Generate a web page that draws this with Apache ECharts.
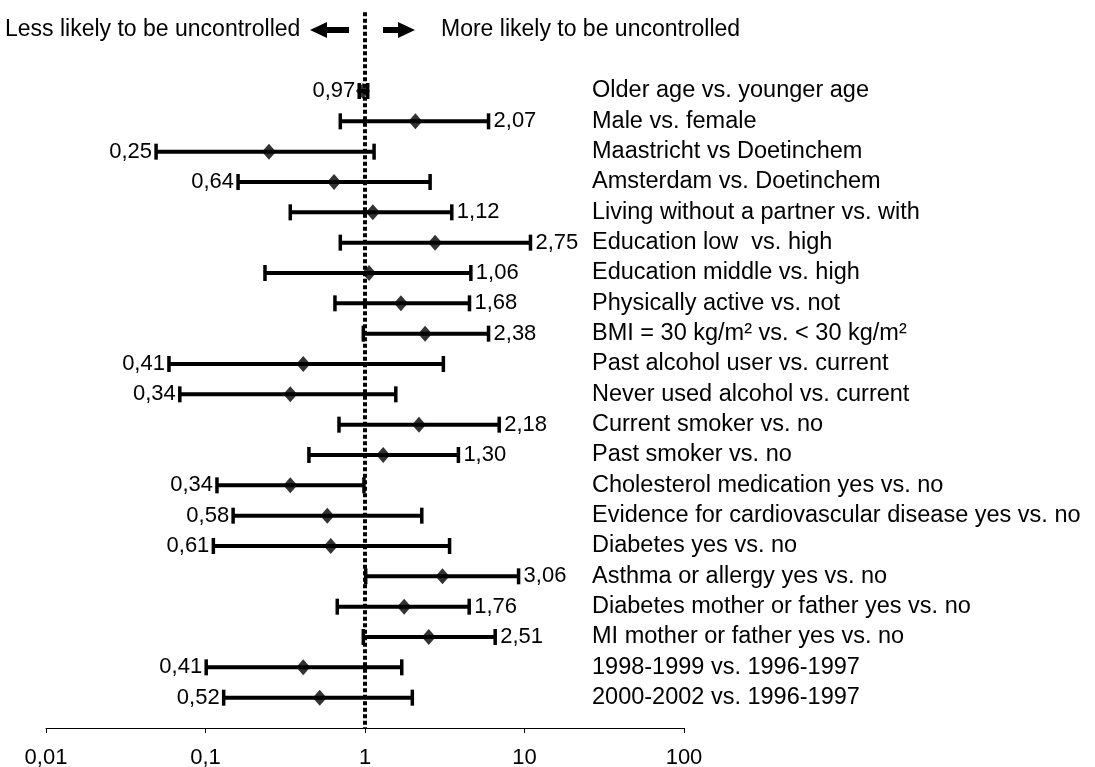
<!DOCTYPE html>
<html><head><meta charset="utf-8">
<script src="https://cdn.jsdelivr.net/npm/echarts@6.0.0/dist/echarts.min.js"></script>
<style>html,body{margin:0;padding:0;background:#fff}#c{width:1095px;height:767px}</style>
</head><body><div id="c"></div>
<script>
const categories = [
  'Older age vs. younger age',
  'Male vs. female',
  'Maastricht vs Doetinchem',
  'Amsterdam vs. Doetinchem',
  'Living without a partner vs. with',
  'Education low  vs. high',
  'Education middle vs. high',
  'Physically active vs. not',
  'BMI = 30 kg/m² vs. < 30 kg/m²',
  'Past alcohol user vs. current',
  'Never used alcohol vs. current',
  'Current smoker vs. no',
  'Past smoker vs. no',
  'Cholesterol medication yes vs. no',
  'Evidence for cardiovascular disease yes vs. no',
  'Diabetes yes vs. no',
  'Asthma or allergy yes vs. no',
  'Diabetes mother or father yes vs. no',
  'MI mother or father yes vs. no',
  '1998-1999 vs. 1996-1997',
  '2000-2002 vs. 1996-1997'
];
const oddsRatio = [0.97, 2.07, 0.25, 0.64, 1.12, 2.75, 1.06, 1.68, 2.38, 0.41, 0.34, 2.18, 1.30, 0.34, 0.58, 0.61, 3.06, 1.76, 2.51, 0.41, 0.52];
const lowerCI   = [0.92, 0.70, 0.049, 0.16, 0.34, 0.70, 0.236, 0.648, 0.976, 0.059, 0.069, 0.687, 0.445, 0.118, 0.149, 0.112, 1.01, 0.67, 0.976, 0.101, 0.13];
const upperCI   = [1.04, 5.95, 1.14, 2.56, 3.50, 10.9, 4.61, 4.52, 5.95, 3.10, 1.56, 6.94, 3.85, 0.985, 2.27, 3.39, 9.18, 4.50, 6.55, 1.70, 1.98];
const xTickValues = [0.01, 0.1, 1, 10, 100];
const referenceValue = 1;
const headerLeft = 'Less likely to be uncontrolled';
const headerRight = 'More likely to be uncontrolled';

const FONT = '"Liberation Sans", Arial, Helvetica, sans-serif';
const fmt = v => v.toFixed(2).replace('.', ',');
const rows = categories.map((c, i) => [lowerCI[i], upperCI[i], oddsRatio[i], i + 1]);
const points = oddsRatio.map((v, i) => [v, i + 1]);

const chart = echarts.init(document.getElementById('c'), null, {renderer: 'canvas'});
chart.setOption({
  animation: false,
  backgroundColor: '#fff',
  grid: {left: 46, right: 411, top: 0, bottom: 39, containLabel: false, outerBoundsMode: 'none'},
  xAxis: {
    type: 'log', logBase: 10, min: xTickValues[0], max: xTickValues[xTickValues.length - 1],
    axisLine: {show: true, onZero: false, lineStyle: {color: '#000', width: 1}},
    axisTick: {show: true, inside: false, length: 5, lineStyle: {color: '#000', width: 1}},
    splitLine: {show: false},
    axisLabel: {
      color: '#000', fontSize: 22, fontFamily: FONT, margin: 19,
      formatter: v => String(Number(Number(v).toPrecision(6))).replace('.', ',')
    }
  },
  yAxis: {
    type: 'value', min: -2, max: 22, interval: 1, inverse: true, position: 'right',
    axisLine: {show: false}, axisTick: {show: false}, splitLine: {show: false},
    axisLabel: {
      color: '#000', fontSize: 23.5, fontFamily: FONT, margin: -92, align: 'left',
      formatter: v => (Number.isInteger(v) && v >= 1 && v <= categories.length) ? categories[v - 1] : ''
    }
  },
  graphic: [
    {type: 'text', x: 5, y: 30, style: {text: headerLeft, fontSize: 23, fontFamily: FONT, fill: '#000', verticalAlign: 'middle'}},
    {type: 'polygon', shape: {points: [[310, 30], [327, 22], [327, 27], [349, 27], [349, 33], [327, 33], [327, 38]]}, style: {fill: '#000'}},
    {type: 'polygon', shape: {points: [[415, 30], [398, 22], [398, 27], [383, 27], [383, 33], [398, 33], [398, 38]]}, style: {fill: '#000'}},
    {type: 'text', x: 441, y: 30, style: {text: headerRight, fontSize: 23, fontFamily: FONT, fill: '#000', verticalAlign: 'middle'}}
  ],
  series: [
    {
      type: 'custom',
      data: rows,
      encode: {x: [0, 1, 2], y: 3},
      z: 2,
      renderItem: function (params, api) {
        const lo = api.coord([api.value(0), api.value(3)]);
        const hi = api.coord([api.value(1), api.value(3)]);
        const orv = api.value(2);
        const y = lo[1];
        const capH = 16;
        const left = orv < referenceValue;
        return {
          type: 'group',
          children: [
            {type: 'line', shape: {x1: lo[0], y1: y, x2: hi[0], y2: y}, style: {stroke: '#000', lineWidth: 4}},
            {type: 'line', shape: {x1: lo[0], y1: y - capH / 2, x2: lo[0], y2: y + capH / 2}, style: {stroke: '#000', lineWidth: 3.5}},
            {type: 'line', shape: {x1: hi[0], y1: y - capH / 2, x2: hi[0], y2: y + capH / 2}, style: {stroke: '#000', lineWidth: 3.5}},
            {type: 'text', style: {
              text: fmt(orv), x: left ? lo[0] - 4 : hi[0] + 5, y: y,
              align: left ? 'right' : 'left', verticalAlign: 'middle',
              fontSize: 22, fontFamily: FONT, fill: '#000'
            }}
          ]
        };
      }
    },
    {
      type: 'scatter',
      data: points,
      symbol: 'diamond',
      symbolSize: [14, 16],
      itemStyle: {color: '#000'},
      z: 4,
      markLine: {
        silent: true,
        symbol: ['none', 'none'],
        label: {show: false},
        z: 3,
        lineStyle: {color: '#000', width: 4, type: [4, 2.5], opacity: 1},
        emphasis: {disabled: true},
        data: [[{coord: [referenceValue, -1.6]}, {coord: [referenceValue, 22]}]]
      }
    }
  ]
});
</script>
</body></html>
